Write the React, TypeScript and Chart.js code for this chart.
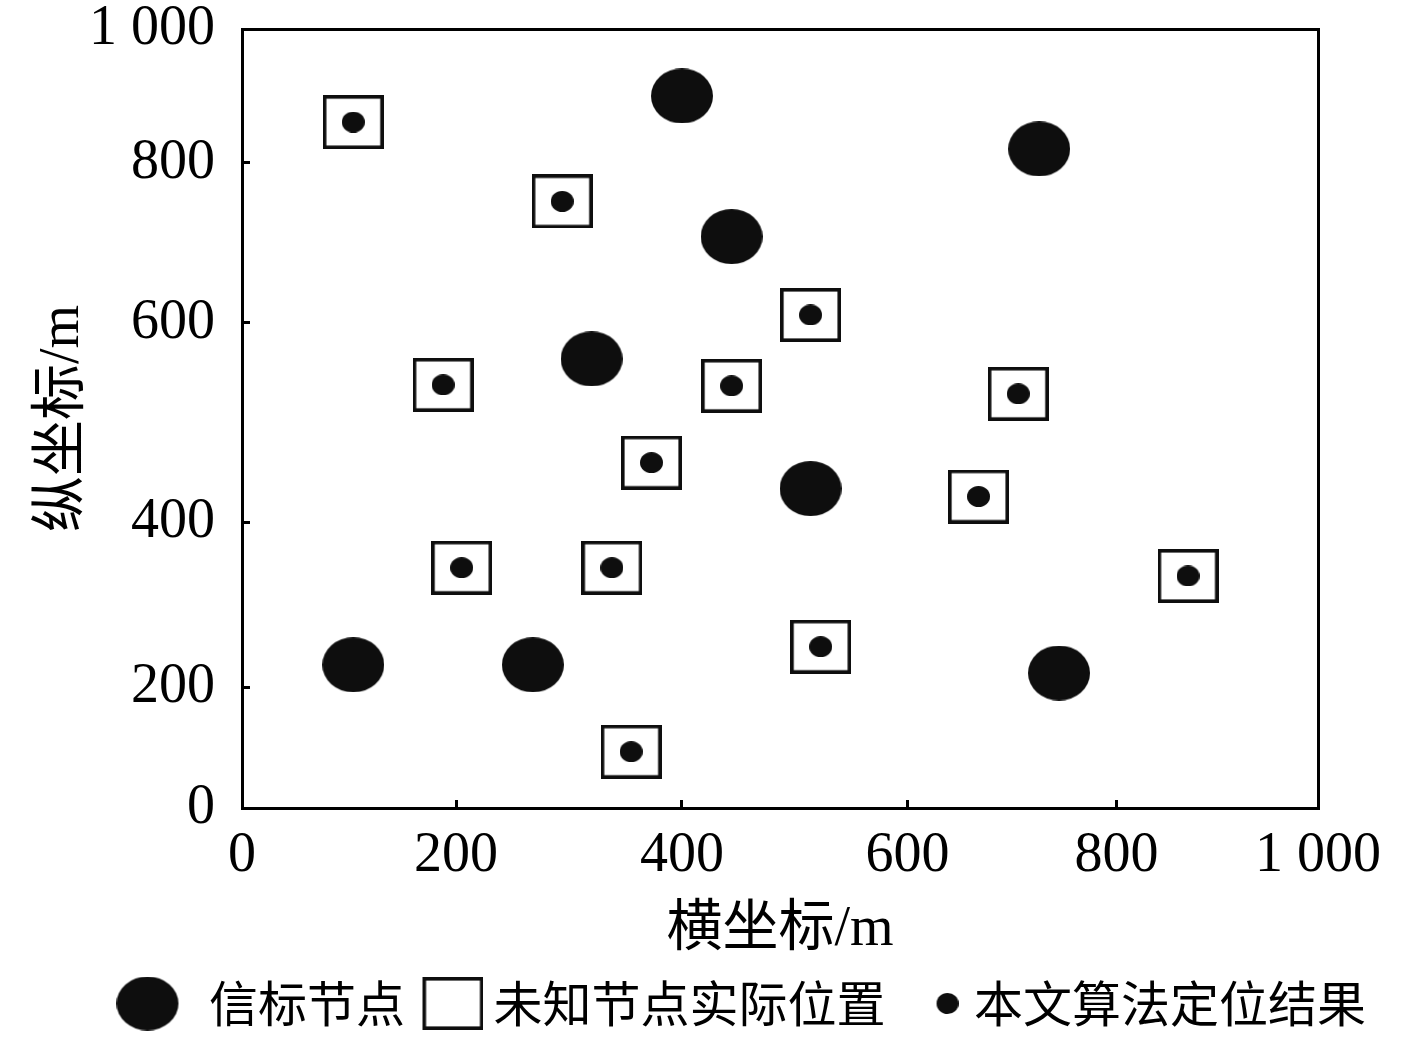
import React, { useEffect, useRef } from 'react';
import { Chart, registerables, LinearScale } from 'chart.js';

Chart.register(...registerables);

// ---- data ----
const tickValues = [0, 200, 400, 600, 800, 1000];
const xTickLabels = ['0', '200', '400', '600', '800', '1 000'];
const yTickLabels = ['0', '200', '400', '600', '800', '1 000'];

const seriesLabels = ['信标节点', '未知节点实际位置', '本文算法定位结果'];

const beaconX = [400, 726, 444, 320, 514, 104, 268, 745];
const beaconY = [900, 821, 708, 564, 434, 227, 227, 217];

const unknownX = [104, 294, 514, 188, 444, 706, 373, 668, 205, 338, 871, 523, 355];
const unknownY = [861, 752, 610, 538, 537, 529, 460, 426, 345, 345, 335, 249, 93];

const resultX = [104, 294, 514, 188, 444, 706, 373, 668, 205, 338, 871, 523, 355];
const resultY = [861, 752, 610, 538, 537, 529, 460, 426, 345, 345, 335, 249, 93];

// ---- axis geometry: the original axes are not evenly spaced ----
const X_TICK_FRACTIONS = [0, 0.1989, 0.4089, 0.6185, 0.8127, 1];
const Y_TICK_FRACTIONS = [0, 0.1553, 0.3665, 0.6226, 0.828, 1];

function toFraction(v: number, vals: number[], fr: number[]) {
  let i = 1;
  while (i < vals.length - 1 && v > vals[i]) i++;
  const v0 = vals[i - 1];
  const v1 = vals[i];
  return fr[i - 1] + ((v - v0) / (v1 - v0)) * (fr[i] - fr[i - 1]);
}
function fromFraction(f: number, vals: number[], fr: number[]) {
  let i = 1;
  while (i < fr.length - 1 && f > fr[i]) i++;
  return vals[i - 1] + ((f - fr[i - 1]) / (fr[i] - fr[i - 1])) * (vals[i] - vals[i - 1]);
}

class WarpedScale extends LinearScale {
  static id = 'warped';
  getPixelForValue(value: any) {
    if (value === null || value === undefined || Number.isNaN(value)) return NaN;
    const fr = this.isHorizontal() ? X_TICK_FRACTIONS : Y_TICK_FRACTIONS;
    return this.getPixelForDecimal(toFraction(+value, tickValues, fr));
  }
  getValueForPixel(pixel: number) {
    const fr = this.isHorizontal() ? X_TICK_FRACTIONS : Y_TICK_FRACTIONS;
    return fromFraction(this.getDecimalForPixel(pixel), tickValues, fr);
  }
}
Chart.register(WarpedScale as any);

const serif = "'Liberation Serif', 'Times New Roman', serif";
const cjk = "'Noto Sans CJK SC', sans-serif";
const mixed = "'Liberation Serif', 'Noto Sans CJK SC', serif";
const INK = '#0e0e0e';

// marker images; `shift` moves the mark inside a wider transparent canvas (legend use)
function makeEllipse(w: number, h: number, shift = 0) {
  const pad = Math.abs(shift) * 2;
  const c = document.createElement('canvas');
  c.width = w + pad;
  c.height = h;
  const ctx = c.getContext('2d')!;
  ctx.fillStyle = INK;
  ctx.beginPath();
  ctx.ellipse(c.width / 2 + shift, h / 2, w / 2, h / 2, 0, 0, Math.PI * 2);
  ctx.fill();
  return c;
}
function makeSquare(w: number, h: number, lw: number, shift = 0) {
  const pad = Math.abs(shift) * 2;
  const c = document.createElement('canvas');
  c.width = w + pad;
  c.height = h;
  const ctx = c.getContext('2d')!;
  ctx.strokeStyle = INK;
  ctx.lineWidth = lw;
  const x0 = c.width / 2 + shift - w / 2;
  ctx.strokeRect(x0 + lw / 2, lw / 2, w - lw, h - lw);
  return c;
}

export default function App() {
  const ref = useRef<HTMLCanvasElement>(null);

  useEffect(() => {
    const canvas = ref.current;
    if (!canvas) return;

    const beaconImg = makeEllipse(62, 55);
    const squareImg = makeSquare(61, 54, 3.6);
    const dotImg = makeEllipse(23, 21);
    const legendStyles = [makeEllipse(62, 54, -11), makeSquare(61, 53, 3.6, 10), makeEllipse(22, 21, 24)];

    const tickFont = { family: serif, size: 56, lineHeight: 1 };
    const gridOpts = {
      display: true,
      drawOnChartArea: false,
      drawTicks: true,
      tickLength: -8,
      tickWidth: 3,
      tickColor: '#000',
    };
    const borderOpts = { display: true, width: 3, color: '#000' };
    const setTicks = (s: any) => {
      s.ticks = tickValues.map((v) => ({ value: v }));
    };

    const chart = new Chart(canvas, {
      type: 'scatter',
      data: {
        datasets: [
          {
            label: seriesLabels[0],
            data: beaconX.map((x, i) => ({ x, y: beaconY[i] })),
            pointStyle: beaconImg as any,
            pointRadius: 20,
            pointHoverRadius: 20,
            backgroundColor: INK,
            borderColor: INK,
            xAxisID: 'x',
            yAxisID: 'y',
          },
          {
            label: seriesLabels[1],
            data: unknownX.map((x, i) => ({ x, y: unknownY[i] })),
            pointStyle: squareImg as any,
            pointRadius: 20,
            pointHoverRadius: 20,
            backgroundColor: 'rgba(0,0,0,0)',
            borderColor: INK,
            xAxisID: 'x',
            yAxisID: 'y',
          },
          {
            label: seriesLabels[2],
            data: resultX.map((x, i) => ({ x, y: resultY[i] })),
            pointStyle: dotImg as any,
            pointRadius: 8,
            pointHoverRadius: 8,
            backgroundColor: INK,
            borderColor: INK,
            xAxisID: 'x',
            yAxisID: 'y',
          },
        ],
      },
      options: {
        responsive: false,
        devicePixelRatio: 1,
        animation: false,
        events: [],
        layout: { padding: { left: 81.5, top: 29, right: 0, bottom: 1 } },
        scales: {
          x: {
            type: 'warped' as any,
            position: 'bottom',
            min: 0,
            max: 1000,
            afterBuildTicks: setTicks,
            ticks: {
              autoSkip: false,
              maxRotation: 0,
              minRotation: 0,
              padding: 28,
              color: '#000',
              font: tickFont,
              callback: (_v: any, i: number) => xTickLabels[i],
            },
            grid: gridOpts,
            border: borderOpts,
            title: {
              display: true,
              text: '横坐标/m',
              color: '#000',
              font: { family: mixed, size: 56 },
              padding: { top: 0, bottom: 3 },
            },
            afterFit: (s: any) => {
              s.height = 159;
              s.paddingLeft = 14;
              s.paddingRight = 64;
            },
          } as any,
          y: {
            type: 'warped' as any,
            position: 'left',
            min: 0,
            max: 1000,
            afterBuildTicks: setTicks,
            ticks: {
              autoSkip: false,
              padding: 35,
              color: '#000',
              font: tickFont,
              callback: (_v: any, i: number) => yTickLabels[i],
            },
            grid: gridOpts,
            border: borderOpts,
            title: {
              display: true,
              text: '纵坐标/m',
              color: '#000',
              font: { family: mixed, size: 56 },
              padding: { top: -52, bottom: 0 },
            },
            afterFit: (s: any) => {
              s.width = 160.5;
              s.paddingTop = 28;
              s.paddingBottom = 28;
            },
          } as any,
          x2: {
            type: 'linear',
            position: 'top',
            min: 0,
            max: 1000,
            ticks: { display: false },
            grid: { display: false, drawTicks: false },
            border: borderOpts,
            afterFit: (s: any) => {
              s.height = 0;
            },
          } as any,
          y2: {
            type: 'linear',
            position: 'right',
            min: 0,
            max: 1000,
            ticks: { display: false },
            grid: { display: false, drawTicks: false },
            border: borderOpts,
            afterFit: (s: any) => {
              s.width = 99;
            },
          } as any,
        },
        plugins: {
          tooltip: { enabled: false },
          legend: {
            display: true,
            position: 'bottom',
            align: 'center',
            labels: {
              usePointStyle: true,
              pointStyleWidth: 52,
              padding: 12,
              color: '#000',
              font: { family: cjk, size: 49 },
              generateLabels: (ch: any) =>
                ch.data.datasets.map((ds: any, i: number) => ({
                  text: ds.label,
                  pointStyle: legendStyles[i],
                  fillStyle: INK,
                  strokeStyle: INK,
                  lineWidth: 0,
                  hidden: false,
                  datasetIndex: i,
                  fontColor: '#000',
                })),
            },
          } as any,
        },
      },
    });

    return () => chart.destroy();
  }, []);

  return (
    <div style={{ position: 'fixed', left: 0, top: 0, width: 1417, height: 1039, background: '#fff' }}>
      <canvas ref={ref} width={1417} height={1039} style={{ display: 'block', width: 1417, height: 1039 }} />
    </div>
  );
}
